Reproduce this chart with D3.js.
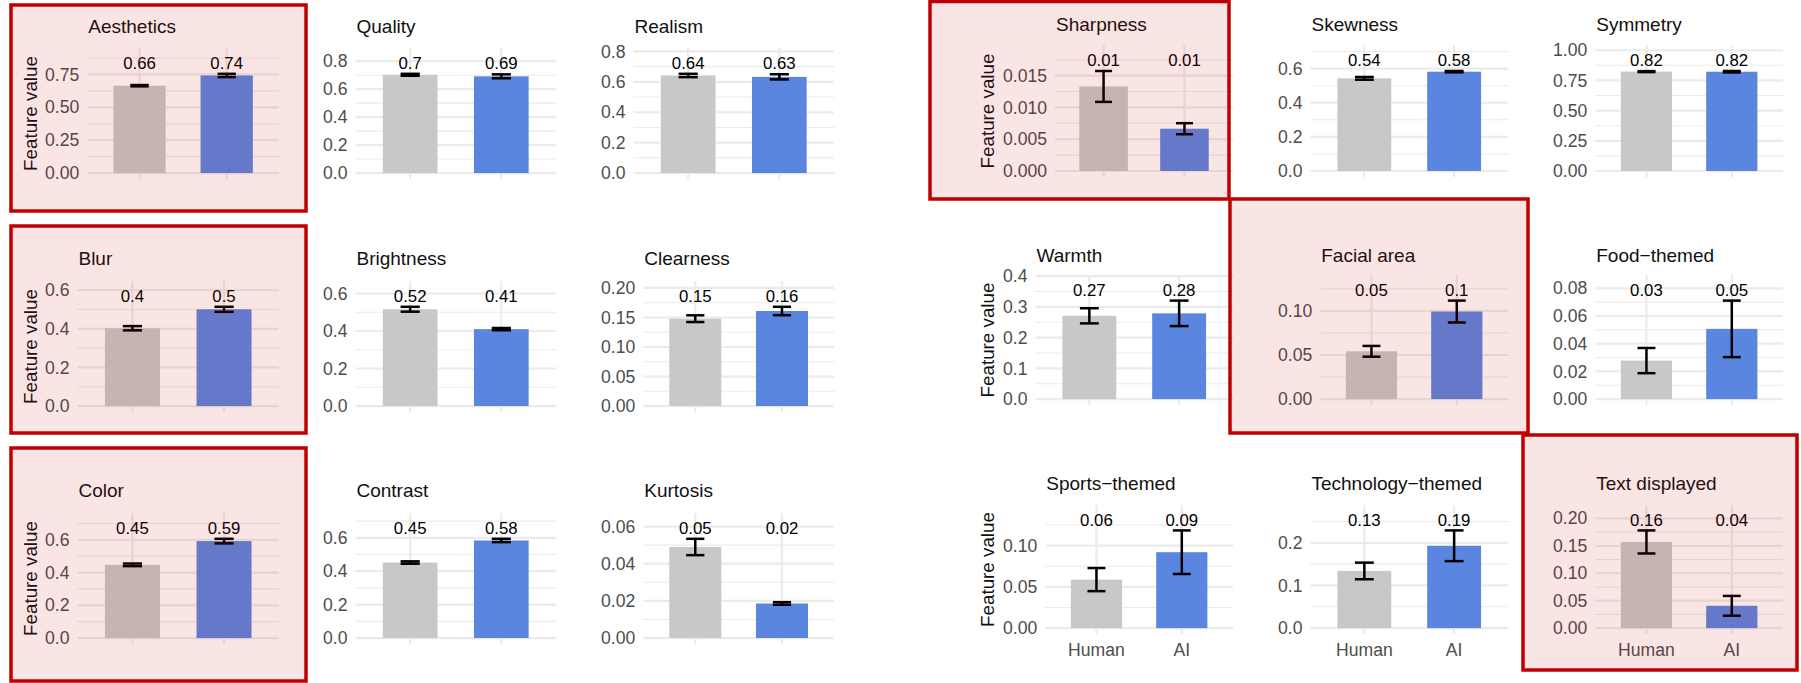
<!DOCTYPE html>
<html>
<head>
<meta charset="utf-8">
<script src="https://cdn.jsdelivr.net/npm/d3@7"></script>
<style>
  body { margin: 0; background: #ffffff; }
  svg { display: block; }
  text { font-family: "Liberation Sans", Arial, Helvetica, sans-serif; }
</style>
</head>
<body>
<svg id="chart" width="1801" height="683"></svg>
<script>
// ---- data -------------------------------------------------------------
const groups = ["Human", "AI"];

const features = [
  "Aesthetics", "Quality", "Realism",
  "Blur", "Brightness", "Clearness",
  "Color", "Contrast", "Kurtosis",
  "Sharpness", "Skewness", "Symmetry",
  "Warmth", "Facial area", "Food\u2212themed",
  "Sports\u2212themed", "Technology\u2212themed", "Text displayed"
];

const humanMean = [0.664, 0.703, 0.642, 0.403, 0.516, 0.148, 0.447, 0.452, 0.0490,
                   0.0133, 0.543, 0.823, 0.271, 0.0542, 0.0278, 0.0588, 0.134, 0.157];
const humanSE   = [0.005, 0.007, 0.011, 0.011, 0.013, 0.0057, 0.008, 0.007, 0.0044,
                   0.00243, 0.008, 0.004, 0.0246, 0.0061, 0.0091, 0.014, 0.0195, 0.021];
const aiMean    = [0.742, 0.692, 0.633, 0.501, 0.410, 0.161, 0.592, 0.584, 0.0186,
                   0.00665, 0.582, 0.822, 0.279, 0.0993, 0.0507, 0.092, 0.193, 0.0407];
const aiSE      = [0.0125, 0.014, 0.017, 0.013, 0.006, 0.0071, 0.014, 0.010, 0.0007,
                   0.00087, 0.004, 0.006, 0.0415, 0.0124, 0.0204, 0.0264, 0.036, 0.018];

const tickLabels = [
  ["0.00", "0.25", "0.50", "0.75"],
  ["0.0", "0.2", "0.4", "0.6", "0.8"],
  ["0.0", "0.2", "0.4", "0.6", "0.8"],
  ["0.0", "0.2", "0.4", "0.6"],
  ["0.0", "0.2", "0.4", "0.6"],
  ["0.00", "0.05", "0.10", "0.15", "0.20"],
  ["0.0", "0.2", "0.4", "0.6"],
  ["0.0", "0.2", "0.4", "0.6"],
  ["0.00", "0.02", "0.04", "0.06"],
  ["0.000", "0.005", "0.010", "0.015"],
  ["0.0", "0.2", "0.4", "0.6"],
  ["0.00", "0.25", "0.50", "0.75", "1.00"],
  ["0.0", "0.1", "0.2", "0.3", "0.4"],
  ["0.00", "0.05", "0.10"],
  ["0.00", "0.02", "0.04", "0.06", "0.08"],
  ["0.00", "0.05", "0.10"],
  ["0.0", "0.1", "0.2"],
  ["0.00", "0.05", "0.10", "0.15", "0.20"]
];

const highlighted = ["Aesthetics", "Blur", "Color", "Sharpness", "Facial area", "Text displayed"];
const yAxisTitle = "Feature value";

// ---- layout & style ---------------------------------------------------
const layout = {
  left: {
    cols: [[45, 279], [323, 556], [601, 834]],
    rows: [{ top: 48, h: 131, title: 33 }, { top: 281, h: 131, title: 265 }, { top: 513, h: 131, title: 497 }],
    ylabX: 30, xLabels: false
  },
  right: {
    cols: [[1003, 1233], [1278, 1508], [1553, 1783]],
    rows: [{ top: 45, h: 132, title: 31 }, { top: 275, h: 130, title: 262 }, { top: 505, h: 129, title: 490 }],
    ylabX: 987, xLabels: true
  }
};

const boxes = {
  "Aesthetics":     [11, 5, 306, 211],
  "Blur":           [11, 226, 306, 433],
  "Color":          [11, 448, 306, 681],
  "Sharpness":      [930, 1.5, 1229, 199],
  "Facial area":    [1230, 199, 1528, 433],
  "Text displayed": [1523, 435, 1797, 670]
};

const barColor = { Human: "#c8c8c8", AI: "#5b86e0" };
const gridColor = "#ebebeb";
const tickFont = 17.6, valueFont = 16.8, titleFont = 19, axisTitleFont = 18.8;

const svg = d3.select("#chart");
const fmtValue = v => String(+v.toFixed(2));

function textWidth(str, size) {
  const t = svg.append("text").attr("font-size", size).text(str);
  const w = t.node().getComputedTextLength();
  t.remove();
  return w;
}

// ---- panels -----------------------------------------------------------
features.forEach((name, i) => {
  const grp = i < 9 ? layout.left : layout.right;
  const k = i % 9, r = Math.floor(k / 3), c = k % 3;
  const row = grp.rows[r];
  const [labelLeft, pr] = grp.cols[c];
  const ticks = tickLabels[i];
  const tickVals = ticks.map(Number);

  const rows = [
    { g: "Human", m: humanMean[i], se: humanSE[i] },
    { g: "AI", m: aiMean[i], se: aiSE[i] }
  ];
  const labelY = 1.2 * d3.max(rows, d => d.m + d.se);

  const maxW = d3.max(ticks, t => textWidth(t, tickFont));
  const pl = labelLeft + maxW + 8;

  const y = d3.scaleLinear()
    .domain([-0.05 * labelY, 1.05 * labelY])
    .range([row.top + row.h, row.top]);
  const x = d3.scaleBand().domain(groups).range([pl, pr])
    .paddingInner(0.4).paddingOuter(0.3);
  const step = x.step();

  const g = svg.append("g").attr("class", "panel");

  // minor grid lines halfway between the major breaks
  const majorStep = tickVals[1] - tickVals[0];
  const [d0, d1] = y.domain();
  const minors = [];
  for (let v = tickVals[0] - majorStep / 2; v <= d1 + 1e-12; v += majorStep) {
    if (v >= d0) minors.push(v);
  }
  g.selectAll("line.minor").data(minors).join("line")
    .attr("x1", pl).attr("x2", pr)
    .attr("y1", d => y(d)).attr("y2", d => y(d))
    .attr("stroke", gridColor).attr("stroke-width", 1.1);

  g.selectAll("line.major").data(tickVals).join("line")
    .attr("x1", pl).attr("x2", pr)
    .attr("y1", d => y(d)).attr("y2", d => y(d))
    .attr("stroke", gridColor).attr("stroke-width", 2.2);

  g.selectAll("line.vgrid").data(groups).join("line")
    .attr("x1", d => x(d) + x.bandwidth() / 2).attr("x2", d => x(d) + x.bandwidth() / 2)
    .attr("y1", row.top).attr("y2", row.top + row.h)
    .attr("stroke", gridColor).attr("stroke-width", 2.2);

  // y axis labels
  const yAxis = d3.axisLeft(y).tickValues(tickVals)
    .tickFormat((d, j) => ticks[j]).tickSize(0).tickPadding(8);
  const ya = g.append("g").attr("transform", `translate(${pl},0)`).call(yAxis);
  ya.attr("font-size", null).attr("font-family", null);
  ya.select(".domain").remove();
  ya.selectAll("text").attr("font-size", tickFont).attr("fill", "#4d4d4d");

  // bars
  g.selectAll("rect.bar").data(rows).join("rect")
    .attr("x", d => x(d.g)).attr("width", x.bandwidth())
    .attr("y", d => y(d.m)).attr("height", d => y(0) - y(d.m))
    .attr("fill", d => barColor[d.g]);

  // error bars
  const cap = 0.21 * step / 2;
  rows.forEach(d => {
    const cx = x(d.g) + x.bandwidth() / 2;
    const eb = g.append("g").attr("stroke", "#000").attr("stroke-width", 2.5).attr("fill", "none");
    eb.append("line").attr("x1", cx).attr("x2", cx).attr("y1", y(d.m - d.se)).attr("y2", y(d.m + d.se));
    eb.append("line").attr("x1", cx - cap).attr("x2", cx + cap).attr("y1", y(d.m - d.se)).attr("y2", y(d.m - d.se));
    eb.append("line").attr("x1", cx - cap).attr("x2", cx + cap).attr("y1", y(d.m + d.se)).attr("y2", y(d.m + d.se));
  });

  // value labels
  g.selectAll("text.val").data(rows).join("text")
    .attr("x", d => x(d.g) + x.bandwidth() / 2)
    .attr("y", y(labelY) + 15)
    .attr("text-anchor", "middle")
    .attr("font-size", valueFont).attr("fill", "#000")
    .text(d => fmtValue(d.m));

  // panel title
  g.append("text").attr("x", pl + 1).attr("y", row.title)
    .attr("font-size", titleFont).attr("fill", "#111").text(name);

  // y axis title on the first column
  if (c === 0) {
    g.append("text")
      .attr("transform", `translate(${grp.ylabX},${row.top + row.h / 2}) rotate(-90)`)
      .attr("text-anchor", "middle").attr("dy", "0.35em")
      .attr("font-size", axisTitleFont).attr("fill", "#111")
      .text(yAxisTitle);
  }

  // group labels under the bottom row
  if (grp.xLabels && r === 2) {
    const xa = g.append("g").attr("transform", `translate(0,${row.top + row.h})`)
      .call(d3.axisBottom(x).tickSize(0).tickPadding(9.5));
    xa.attr("font-size", null).attr("font-family", null);
    xa.select(".domain").remove();
    xa.selectAll("text").attr("font-size", tickFont).attr("fill", "#4d4d4d");
  }
});

// ---- highlight boxes ----------------------------------------------------
svg.append("g").selectAll("rect").data(highlighted).join("rect")
  .attr("x", d => boxes[d][0]).attr("y", d => boxes[d][1])
  .attr("width", d => boxes[d][2] - boxes[d][0])
  .attr("height", d => boxes[d][3] - boxes[d][1])
  .attr("fill", "rgba(205,0,0,0.1)")
  .attr("stroke", "#c00000").attr("stroke-width", 3.5);
</script>
</body>
</html>
